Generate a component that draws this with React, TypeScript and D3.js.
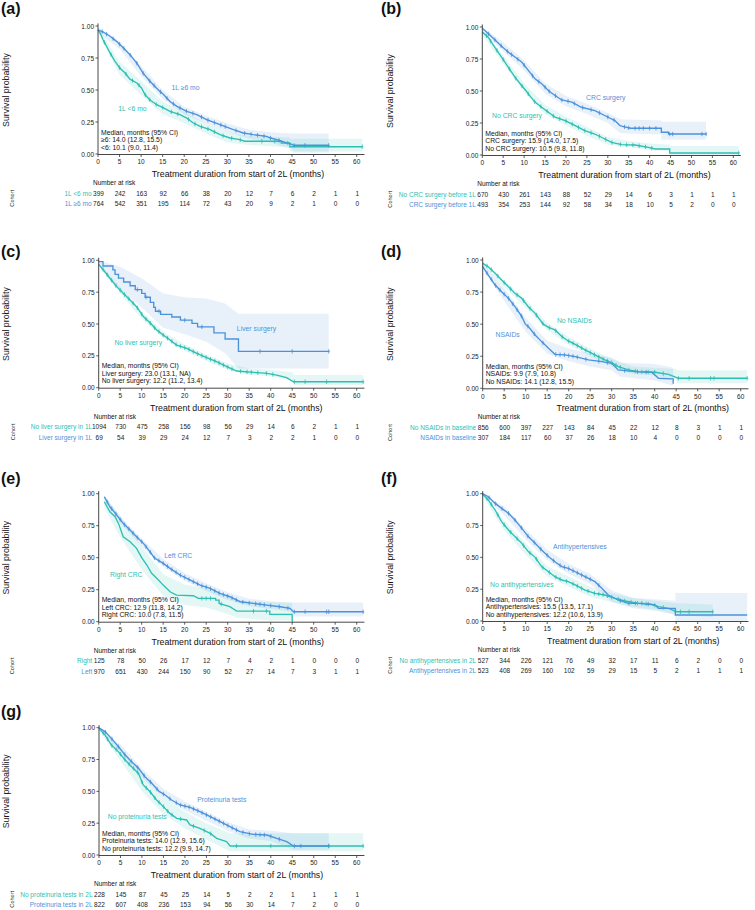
import React from 'react';
import * as d3 from 'd3';

const TEAL = '#2DBFB3';
const BLUE = '#4C92DB';
const FONT = "'Liberation Sans', Arial, Helvetica, sans-serif";

const timeTicks = [0, 5, 10, 15, 20, 25, 30, 35, 40, 45, 50, 55, 60];
const survTicks = [0, 0.25, 0.5, 0.75, 1];

// ---------- Panel (a) ----------
const aLt6Curve = [[0,0.97],[0.5,0.945],[1.2,0.89],[2,0.84],[2.8,0.79],[3.9,0.725],[5.1,0.67],[6.3,0.633],[7.4,0.585],[9,0.555],[10.1,0.516],[10.9,0.464],[12,0.424],[13.6,0.385],[15.2,0.36],[16.7,0.333],[19,0.307],[20.6,0.281],[22.1,0.242],[23.7,0.216],[26,0.19],[28.3,0.151],[30.6,0.125],[32.9,0.112],[34,0.1],[42.5,0.1],[42.5,0.086],[44.5,0.086],[44.5,0.057],[61.3,0.057]];
const aLt6Band = [[0,0.95,0.99],[5,0.62,0.72],[10,0.46,0.57],[15,0.31,0.41],[20,0.24,0.33],[25,0.16,0.24],[30,0.09,0.17],[35,0.07,0.14],[44.5,0.05,0.13],[44.5,0.02,0.12],[61.3,0.02,0.12]];
const aLt6Censor = [1.5,3,5,6.5,8,9.5,11,12,13.5,15,17,18.5,21,22.5,24,25.5,27,29,31,33,38,41,44,61.3];
const aGe6Curve = [[0,0.97],[1.2,0.953],[2.8,0.92],[4.3,0.88],[5.9,0.828],[7.4,0.776],[9,0.71],[10.5,0.63],[12,0.57],[14,0.5],[15.2,0.464],[16.7,0.41],[18.3,0.372],[20.6,0.333],[22.9,0.307],[25.2,0.268],[28.3,0.229],[31.4,0.19],[33.7,0.164],[36,0.151],[39.1,0.138],[40,0.125],[41.5,0.112],[43.8,0.086],[45,0.075],[45.3,0.068],[53.5,0.068]];
const aGe6Band = [[0,0.95,0.99],[5,0.82,0.88],[10,0.61,0.69],[15,0.43,0.5],[20,0.31,0.37],[25,0.24,0.3],[30,0.17,0.24],[35,0.12,0.19],[40,0.09,0.17],[45,0.04,0.16],[45.3,0.01,0.16],[53.5,0.01,0.16]];
const aGe6Censor = [1,2,3.5,5,6,7.5,9,10.5,12,13,14.5,16,17.5,19,20.5,22,24,25.5,27,28.5,29.5,32,34,35.5,37,38.5,40,42,45.5,48,53.5];
const aRiskLt6 = [399,242,163,92,66,38,20,12,7,6,2,1,1];
const aRiskGe6 = [764,542,351,195,114,72,43,20,9,2,1,0,0];

// ---------- Panel (b) ----------
const bNoCurve = [[0,0.96],[1.4,0.92],[3,0.84],[4.6,0.765],[6.2,0.687],[7.8,0.608],[9.4,0.543],[10.5,0.5],[11,0.478],[12.6,0.413],[14.2,0.373],[15.8,0.334],[17.4,0.295],[19.8,0.269],[22.2,0.23],[24.5,0.19],[26.9,0.164],[29.3,0.125],[30.9,0.099],[33.3,0.081],[36.5,0.078],[39.7,0.06],[41.3,0.047],[44.8,0.047],[44.8,0.016],[61.3,0.016]];
const bNoBand = [[0,0.94,0.98],[5,0.71,0.78],[10,0.49,0.56],[15,0.32,0.39],[20,0.23,0.3],[25,0.15,0.22],[30,0.08,0.14],[35,0.06,0.11],[40,0.04,0.09],[44.8,0.03,0.08],[44.8,0,0.07],[61.3,0,0.07]];
const bNoCensor = [1,2,3.5,5,6.5,8,9.5,11,12.5,14,15.5,17,18.5,20,21.5,23,24.5,26,28,29.5,31,33,34.5,36,37.5,39,40.5,61.3];
const bYesCurve = [[0,0.99],[1.4,0.95],[3,0.9],[4.6,0.85],[6.2,0.804],[7.8,0.765],[9.4,0.726],[11,0.661],[12.6,0.595],[14.2,0.556],[15.9,0.5],[17.4,0.465],[19,0.43],[21.4,0.413],[23.7,0.373],[26.9,0.347],[30.1,0.295],[31.7,0.269],[32.9,0.23],[34,0.22],[35.5,0.209],[42.8,0.209],[42.8,0.178],[44.5,0.178],[44.5,0.164],[53.5,0.164]];
const bYesBand = [[0,0.97,1],[5,0.81,0.88],[10,0.66,0.74],[15,0.48,0.56],[20,0.38,0.46],[25,0.32,0.4],[30,0.25,0.33],[33,0.17,0.28],[42.8,0.16,0.27],[42.8,0.12,0.26],[53.5,0.12,0.26]];
const bYesCensor = [1.5,3,4.5,6,7,8.5,10,12,13.5,15,16,17.5,19,20.5,22,24,26,28,30,31.5,34,35,36.5,37.5,38.5,40,41.5,44.8,45.5,52.5,53.5];
const bRiskNo = [670,430,261,143,88,52,29,14,6,3,1,1,1];
const bRiskYes = [493,354,253,144,92,58,34,18,10,5,2,0,0];

// ---------- Panel (c) ----------
const cNoCurve = [[0,0.968],[1.1,0.924],[2.6,0.859],[4.2,0.793],[5.7,0.741],[7.3,0.688],[8.8,0.636],[10.4,0.558],[12.2,0.5],[13.5,0.453],[15,0.414],[16.6,0.374],[18.1,0.335],[20.5,0.309],[22.8,0.27],[25.1,0.236],[27.4,0.204],[29.8,0.165],[32.1,0.131],[36,0.12],[39.1,0.113],[41.4,0.099],[43.7,0.079],[45.3,0.047],[61.5,0.047]];
const cNoBand = [[0,0.955,0.98],[5,0.74,0.79],[10,0.54,0.6],[15,0.39,0.44],[20,0.29,0.34],[25,0.21,0.26],[30,0.14,0.19],[35,0.1,0.15],[40,0.09,0.14],[45.3,0.05,0.12],[45.3,0.02,0.1],[61.5,0.02,0.1]];
const cNoCensor = [1,2,3,4,5,6,7,8,9,10,11,12,13,14,15,16,17,18,19,20,21,22,23,24,25,26,27,28,29,30,31,33,34.5,35.5,37,39,40.5,45.5,48,53,61.5];
const cYesCurve = [[0,0.99],[1,0.99],[1,0.955],[3.3,0.955],[3.3,0.925],[3.8,0.925],[3.8,0.89],[4.6,0.89],[4.6,0.86],[5.8,0.86],[5.8,0.83],[7.3,0.83],[7.3,0.8],[8.5,0.8],[8.5,0.77],[10,0.77],[10,0.74],[10.8,0.74],[10.8,0.71],[12,0.71],[12,0.67],[12.8,0.67],[12.8,0.63],[13.2,0.63],[13.2,0.6],[14.4,0.6],[14.4,0.575],[17,0.575],[17,0.555],[19,0.555],[19,0.53],[21.7,0.53],[21.7,0.505],[23,0.505],[23,0.478],[26.8,0.478],[26.8,0.43],[29.4,0.43],[29.4,0.382],[32.5,0.382],[32.5,0.285],[53.5,0.285]];
const cYesBand = [[0,0.97,1],[5,0.77,0.95],[10,0.63,0.86],[15,0.47,0.74],[20,0.42,0.71],[25,0.36,0.7],[29.4,0.27,0.66],[32.5,0.15,0.58],[53.5,0.15,0.58]];
const cYesCensor = [9,11,14,20,24,37.5,45,53.5];
const cRiskNo = [1094,730,475,258,156,98,56,29,14,6,2,1,1];
const cRiskYes = [69,54,39,29,24,12,7,3,2,2,1,0,0];

// ---------- Panel (d) ----------
const dNoCurve = [[0,0.974],[1.3,0.948],[2.9,0.896],[4.4,0.844],[6,0.792],[7.5,0.74],[9.1,0.701],[10.6,0.636],[12.2,0.584],[14.1,0.5],[15.3,0.475],[16.8,0.455],[18.4,0.403],[19.9,0.369],[21.5,0.343],[23.8,0.299],[26.1,0.26],[28.4,0.221],[30,0.2],[31.5,0.169],[33.9,0.143],[36.2,0.13],[40.1,0.125],[43.2,0.109],[45.1,0.083],[45.5,0.078],[61.5,0.078]];
const dNoBand = [[0,0.96,0.99],[5,0.79,0.84],[10,0.63,0.69],[15,0.45,0.51],[20,0.34,0.4],[25,0.25,0.31],[30,0.17,0.23],[35,0.11,0.17],[40,0.1,0.16],[45.1,0.07,0.15],[45.1,0.04,0.14],[61.5,0.04,0.14]];
const dNoCensor = [1,2,3.5,5,6.5,8,9.5,11,12.5,14,15.5,17,18.5,20,21,22,23,24,25,26,27,28,29,30,31,32,34,35.5,37,38.5,40,42,45.5,48,53,53.8,61.5];
const dYesCurve = [[0,0.948],[1.3,0.883],[2.9,0.805],[4.4,0.753],[6,0.701],[7.5,0.636],[9.1,0.558],[9.9,0.5],[10.6,0.481],[12.2,0.416],[13.7,0.364],[15.3,0.312],[16.8,0.265],[19.1,0.26],[21.5,0.247],[24.6,0.221],[27.7,0.208],[30,0.195],[31.5,0.143],[35.4,0.13],[39.3,0.125],[40.9,0.078],[44,0.073],[44.3,0.073],[44.3,0.035]];
const dYesBand = [[0,0.93,0.97],[5,0.68,0.78],[10,0.44,0.55],[15,0.27,0.37],[20,0.21,0.31],[25,0.17,0.27],[30,0.14,0.24],[32,0.09,0.2],[40,0.06,0.19],[44.3,0.02,0.16]];
const dYesCensor = [1,2,3,4,5,6,7,8,9,10.5,12,14,17,18,19,20,21,22,24,27,29,33,36,38];
const dRiskNo = [856,600,397,227,143,84,45,22,12,8,3,1,1];
const dRiskYes = [307,184,117,60,37,26,18,10,4,0,0,0,0];

// ---------- Panel (e) ----------
const eRightCurve = [[1.3,0.937],[2.6,0.859],[3.8,0.82],[4.6,0.768],[5.7,0.664],[7.3,0.625],[8.8,0.573],[10,0.5],[11.2,0.443],[12.3,0.378],[13.5,0.339],[15,0.286],[16.6,0.234],[18.1,0.208],[22,0.203],[23.2,0.182],[27.2,0.182],[27.2,0.169],[28,0.169],[28,0.143],[30.5,0.117],[32.1,0.083],[39.8,0.083],[39.8,0.057],[45,0.057],[45,0]];
const eRightBand = [[1.3,0.89,0.98],[5,0.66,0.83],[10,0.41,0.59],[15,0.2,0.37],[20,0.13,0.29],[25,0.11,0.26],[30,0.06,0.2],[32.1,0.03,0.17],[40,0.01,0.15],[45,0.01,0.15]];
const eRightCensor = [24,25,26,28.5,36,39];
const eLeftCurve = [[1.3,0.976],[2.6,0.898],[4.2,0.833],[5.7,0.768],[7.3,0.716],[8.8,0.664],[10.4,0.612],[11.9,0.547],[12.9,0.5],[15,0.456],[16.6,0.417],[18.9,0.365],[21.2,0.326],[23.6,0.286],[25.9,0.26],[28.2,0.221],[30.5,0.195],[32.9,0.156],[36,0.143],[39.1,0.13],[42.2,0.117],[44.5,0.104],[45.3,0.078],[61.5,0.078]];
const eLeftBand = [[1.3,0.96,0.99],[5,0.77,0.82],[10,0.59,0.65],[15,0.43,0.49],[20,0.32,0.38],[25,0.24,0.3],[30,0.17,0.23],[35,0.12,0.18],[40,0.1,0.16],[44.5,0.08,0.15],[45.3,0.04,0.15],[61.5,0.04,0.15]];
const eLeftCensor = [2,3,4,5,6,7,8,9,10,11,12,13,14,15,16,17,18,19,20,21,22,23,24,25,26,27,28,29,30,31,32,33.5,35,36.5,37.5,38.5,40,42,44,45.5,48,53,53.5,61.5];
const eRiskRight = [125,78,50,26,17,12,7,4,2,1,0,0,0];
const eRiskLeft = [970,651,430,244,150,90,52,27,14,7,3,1,1];

// ---------- Panel (f) ----------
const fNoCurve = [[0,0.995],[1.3,0.95],[2.9,0.872],[4.4,0.78],[6,0.715],[7.5,0.663],[9.1,0.61],[10.6,0.545],[12.2,0.5],[13.7,0.427],[15.3,0.387],[16.8,0.348],[18.4,0.322],[19.9,0.309],[21.5,0.283],[23.8,0.243],[26.1,0.217],[28.4,0.204],[30.8,0.178],[33.1,0.157],[36.2,0.139],[39.3,0.131],[40.9,0.113],[43.2,0.099],[45.1,0.073],[53.5,0.073]];
const fNoBand = [[0,0.98,1],[5,0.71,0.79],[10,0.52,0.61],[15,0.35,0.43],[20,0.27,0.35],[25,0.19,0.27],[30,0.15,0.22],[35,0.11,0.18],[40,0.09,0.16],[45.1,0.05,0.14],[53.5,0.03,0.13]];
const fNoCensor = [1,2,3.5,5,6.5,8,9.5,11,12.5,14,15.5,17,18,19.5,21,22,23,24.5,26,27,28,29,30,31.5,33,34.5,36,38,40,42,46,48,53.5];
const fYesCurve = [[0,1],[1.3,0.976],[2.9,0.924],[4.4,0.885],[6,0.846],[7.5,0.793],[9.1,0.728],[10.6,0.663],[12.2,0.61],[13.7,0.558],[15.5,0.5],[16.8,0.466],[18.4,0.427],[19.9,0.414],[21.5,0.387],[23.8,0.348],[26.1,0.309],[27.7,0.257],[29.2,0.204],[31.5,0.165],[33.9,0.139],[37,0.139],[40.1,0.126],[40.9,0.099],[44.8,0.099],[44.8,0.047],[61.5,0.047]];
const fYesBand = [[0,0.99,1],[5,0.83,0.9],[10,0.64,0.72],[15,0.48,0.56],[20,0.37,0.45],[25,0.29,0.37],[28,0.21,0.29],[30,0.15,0.24],[35,0.1,0.18],[40,0.08,0.17],[44.8,0.05,0.16],[44.8,0,0.22],[61.5,0,0.22]];
const fYesCensor = [1.5,3,4.5,6,7.5,9,10.5,12,13.5,15,16.5,18,19,20,21,22,23,24,25,27,32,34,35.5,37,38.5];
const fRiskNo = [527,344,226,121,76,49,32,17,11,6,2,0,0];
const fRiskYes = [523,408,269,160,102,59,29,15,5,2,1,1,1];

// ---------- Panel (g) ----------
const gNoCurve = [[0,0.995],[1.4,0.942],[2.9,0.864],[4.5,0.812],[6.1,0.746],[7.6,0.694],[9.2,0.641],[10.3,0.55],[11.9,0.497],[13.4,0.432],[15,0.38],[16.5,0.327],[18.1,0.288],[20.4,0.275],[21.2,0.236],[23.5,0.209],[25.9,0.17],[27.4,0.131],[29.7,0.105],[30.5,0.071],[61.5,0.071]];
const gNoBand = [[0,0.98,1],[5,0.74,0.85],[10,0.5,0.63],[15,0.32,0.45],[20,0.21,0.34],[25,0.12,0.25],[30.5,0.03,0.17],[61.5,0.03,0.17]];
const gNoCensor = [1,2,3,4,5,6,7,8,9,10,11,12,13,14,15,16,17,19,22,24.5,26,32,40,53.5,61.5];
const gYesCurve = [[0,1],[1.4,0.969],[2.9,0.916],[4.5,0.851],[6.1,0.785],[7.6,0.733],[9.2,0.681],[10.7,0.615],[12.3,0.563],[14,0.5],[15.4,0.471],[16.9,0.432],[18.9,0.393],[21.2,0.374],[23.5,0.34],[25.9,0.301],[28.2,0.262],[30.5,0.223],[32.8,0.183],[35.9,0.162],[39.1,0.157],[41.4,0.131],[43.7,0.105],[45.3,0.071],[53.5,0.071]];
const gYesBand = [[0,0.99,1],[5,0.81,0.87],[10,0.61,0.68],[15,0.45,0.52],[20,0.35,0.42],[25,0.27,0.34],[30,0.19,0.26],[35,0.13,0.2],[40,0.11,0.19],[45.3,0.04,0.17],[53.5,0.04,0.17]];
const gYesCensor = [1.5,3,4.5,6,7.5,9,10.5,12,13.5,15,16.5,18,19,20,21,22,23,24,25,26,27,28,29,30,31,32,33.5,35,36.5,37.5,38.5,40,42,45.5,47,53.5];
const gRiskNo = [228,145,87,45,25,14,5,2,2,1,1,1,1];
const gRiskYes = [822,607,408,236,153,94,56,30,14,7,2,0,0];

type Series = {
  color: string; curve: number[][]; band: number[][]; censor: number[]; risk: number[];
  tableLabel: string; curveLabel: string; labelAt: [number, number];
};
type PanelDef = { tag: string; series: Series[]; median: string[]; layout: any };

const PANELS: PanelDef[] = [
  { tag: '(a)', median: ['Median, months (95% CI)', '≥6: 14.0 (12.8, 15.5)', '<6: 10.1 (9.0, 11.4)'],
    layout: { x0: 98, x60: 356.7, y1: 26, y0: 154, lx: 1, ly: 14, titleX: 238, ylabX: 6, cohortX: 12 },
    series: [
      { color: TEAL, curve: aLt6Curve, band: aLt6Band, censor: aLt6Censor, risk: aRiskLt6, tableLabel: '1L <6 mo', curveLabel: '1L <6 mo', labelAt: [8, 0.352] },
      { color: BLUE, curve: aGe6Curve, band: aGe6Band, censor: aGe6Censor, risk: aRiskGe6, tableLabel: '1L ≥6 mo', curveLabel: '1L ≥6 mo', labelAt: [20.3, 0.523] },
    ] },
  { tag: '(b)', median: ['Median, months (95% CI)', 'CRC surgery: 15.9 (14.0, 17.5)', 'No CRC surgery: 10.5 (9.8, 11.8)'],
    layout: { x0: 482.3, x60: 733.3, y1: 27, y0: 155, lx: 381, ly: 14, titleX: 624.5, ylabX: 390, cohortX: 390 },
    series: [
      { color: TEAL, curve: bNoCurve, band: bNoBand, censor: bNoCensor, risk: bRiskNo, tableLabel: 'No CRC surgery before 1L', curveLabel: 'No CRC surgery', labelAt: [8.3, 0.308] },
      { color: BLUE, curve: bYesCurve, band: bYesBand, censor: bYesCensor, risk: bRiskYes, tableLabel: 'CRC surgery before 1L', curveLabel: 'CRC surgery', labelAt: [29.5, 0.452] },
    ] },
  { tag: '(c)', median: ['Median, months (95% CI)', 'Liver surgery: 23.0 (13.1, NA)', 'No liver surgery: 12.2 (11.2, 13.4)'],
    layout: { x0: 98.7, x60: 356.7, y1: 260.3, y0: 387.7, lx: 1, ly: 257, titleX: 236.3, ylabX: 6, cohortX: 13 },
    series: [
      { color: TEAL, curve: cNoCurve, band: cNoBand, censor: cNoCensor, risk: cRiskNo, tableLabel: 'No liver surgery in 1L', curveLabel: 'No liver surgery', labelAt: [9.2, 0.356] },
      { color: BLUE, curve: cYesCurve, band: cYesBand, censor: cYesCensor, risk: cRiskYes, tableLabel: 'Liver surgery in 1L', curveLabel: 'Liver surgery', labelAt: [36.7, 0.466] },
    ] },
  { tag: '(d)', median: ['Median, months (95% CI)', 'NSAIDs: 9.9 (7.9, 10.8)', 'No NSAIDs: 14.1 (12.8, 15.5)'],
    layout: { x0: 482.7, x60: 740.7, y1: 260, y0: 388.3, lx: 381, ly: 257, titleX: 642.8, ylabX: 390, cohortX: 390 },
    series: [
      { color: TEAL, curve: dNoCurve, band: dNoBand, censor: dNoCensor, risk: dRiskNo, tableLabel: 'No NSAIDs in baseline', curveLabel: 'No NSAIDs', labelAt: [21.3, 0.525] },
      { color: BLUE, curve: dYesCurve, band: dYesBand, censor: dYesCensor, risk: dRiskYes, tableLabel: 'NSAIDs in baseline', curveLabel: 'NSAIDs', labelAt: [5.8, 0.416] },
    ] },
  { tag: '(e)', median: ['Median, months (95% CI)', 'Left CRC: 12.9 (11.8, 14.2)', 'Right CRC: 10.0 (7.8, 11.5)'],
    layout: { x0: 98.7, x60: 356.7, y1: 493.7, y0: 621.7, lx: 1, ly: 484, titleX: 237.8, ylabX: 6, cohortX: 12 },
    series: [
      { color: TEAL, curve: eRightCurve, band: eRightBand, censor: eRightCensor, risk: eRiskRight, tableLabel: 'Right', curveLabel: 'Right CRC', labelAt: [6.4, 0.37] },
      { color: BLUE, curve: eLeftCurve, band: eLeftBand, censor: eLeftCensor, risk: eRiskLeft, tableLabel: 'Left', curveLabel: 'Left CRC', labelAt: [18.5, 0.521] },
    ] },
  { tag: '(f)', median: ['Median, months (95% CI)', 'Antihypertensives: 15.5 (13.5, 17.1)', 'No antihypertensives: 12.2 (10.6, 13.9)'],
    layout: { x0: 482.7, x60: 740.7, y1: 493.7, y0: 621, lx: 381, ly: 484, titleX: 633.3, ylabX: 390, cohortX: 390 },
    series: [
      { color: TEAL, curve: fNoCurve, band: fNoBand, censor: fNoCensor, risk: fRiskNo, tableLabel: 'No antihypertensives in 2L', curveLabel: 'No antihypertensives', labelAt: [9.1, 0.29] },
      { color: BLUE, curve: fYesCurve, band: fYesBand, censor: fYesCensor, risk: fRiskYes, tableLabel: 'Antihypertensives in 2L', curveLabel: 'Antihypertensives', labelAt: [22.6, 0.586] },
    ] },
  { tag: '(g)', median: ['Median, months (95% CI)', 'Proteinuria tests: 14.0 (12.9, 15.6)', 'No proteinuria tests: 12.2 (9.9, 14.7)'],
    layout: { x0: 99, x60: 356.7, y1: 727.7, y0: 855, lx: 1, ly: 717, titleX: 237, ylabX: 6, cohortX: 12 },
    series: [
      { color: TEAL, curve: gNoCurve, band: gNoBand, censor: gNoCensor, risk: gRiskNo, tableLabel: 'No proteinuria tests in 2L', curveLabel: 'No proteinuria tests', labelAt: [8.9, 0.301] },
      { color: BLUE, curve: gYesCurve, band: gYesBand, censor: gYesCensor, risk: gRiskYes, tableLabel: 'Proteinuria tests in 2L', curveLabel: 'Proteinuria tests', labelAt: [28.6, 0.437] },
    ] },
];

function curveAt(curve: number[][], t: number): number {
  for (let i = 0; i < curve.length - 1; i++) {
    const [t0, s0] = curve[i];
    const [t1, s1] = curve[i + 1];
    if (t >= t0 && t < t1) return t1 === t0 ? s1 : s0 + (s1 - s0) * (t - t0) / (t1 - t0);
  }
  return curve[curve.length - 1][1];
}

const fmt = d3.format('.2f');

function Panel({ p }: { p: PanelDef }) {
  const L = p.layout;
  const x = d3.scaleLinear().domain([0, 60]).range([L.x0, L.x60]);
  const y = d3.scaleLinear().domain([0, 1]).range([L.y0, L.y1]);
  const line = d3.line<number[]>().x(d => x(d[0])).y(d => y(d[1])).curve(d3.curveLinear);
  const area = d3.area<number[]>().x(d => x(d[0])).y0(d => y(d[1])).y1(d => y(d[2])).curve(d3.curveLinear);
  const axisCol = '#333';
  const yTop = y(1.02);
  const xEnd = x(61.8);
  const titleY = L.y0 + 20;
  const narY = L.y0 + 28.5;
  const rowY = [L.y0 + 39, L.y0 + 49.5];
  return (
    <g>
      <text x={L.lx} y={L.ly} fontSize={16} fontWeight="bold" fill="#111">{p.tag}</text>
      {p.series.map((s, i) => (
        <path key={'b' + i} d={area(s.band) || ''} fill={s.color} fillOpacity={0.13} stroke="none" />
      ))}
      {p.series.map((s, i) => (
        <path key={'l' + i} d={line(s.curve) || ''} fill="none" stroke={s.color} strokeWidth={1.35} />
      ))}
      {p.series.map((s, i) => (
        <g key={'c' + i} stroke={s.color} strokeWidth={0.8}>
          {s.censor.map((t, j) => {
            const cx = x(t), cy = y(curveAt(s.curve, t));
            return <path key={j} d={`M${cx},${cy - 2.2}V${cy + 2.2}M${cx - 1.2},${cy}H${cx + 1.2}`} />;
          })}
        </g>
      ))}
      <line x1={L.x0} x2={L.x0} y1={yTop} y2={L.y0 + 0.5} stroke={axisCol} strokeWidth={0.9} />
      <line x1={L.x0} x2={xEnd} y1={L.y0 + 0.5} y2={L.y0 + 0.5} stroke={axisCol} strokeWidth={0.9} />
      {survTicks.map(v => (
        <g key={'yt' + v}>
          <line x1={L.x0 - 2.5} x2={L.x0} y1={y(v)} y2={y(v)} stroke={axisCol} strokeWidth={0.8} />
          <text x={L.x0 - 4} y={y(v)} fontSize={6.5} textAnchor="end" dominantBaseline="central" fill="#222">{fmt(v)}</text>
        </g>
      ))}
      {timeTicks.map(v => (
        <g key={'xt' + v}>
          <line x1={x(v)} x2={x(v)} y1={L.y0 + 0.5} y2={L.y0 + 3} stroke={axisCol} strokeWidth={0.8} />
          <text x={x(v)} y={L.y0 + 7.8} fontSize={6.5} textAnchor="middle" dominantBaseline="central" fill="#222">{v}</text>
        </g>
      ))}
      <text x={L.titleX} y={titleY} fontSize={8.8} textAnchor="middle" dominantBaseline="central" fill="#111">Treatment duration from start of 2L (months)</text>
      <text transform={`translate(${L.ylabX},${(L.y0 + L.y1) / 2}) rotate(-90)`} fontSize={8.8} textAnchor="middle" dominantBaseline="central" fill="#111">Survival probability</text>
      {p.series.map((s, i) => (
        <text key={'cl' + i} x={x(s.labelAt[0])} y={y(s.labelAt[1])} fontSize={6.8} textAnchor="middle" dominantBaseline="central" fill={s.color}>{s.curveLabel}</text>
      ))}
      {p.median.map((m, i) => (
        <text key={'m' + i} x={L.x0 + 3} y={L.y0 - 22 + i * 7.6} fontSize={6.8} dominantBaseline="central" fill="#111">{m}</text>
      ))}
      <text x={L.x0 - 5} y={narY} fontSize={6.5} dominantBaseline="central" fill="#111">Number at risk</text>
      <text transform={`translate(${L.cohortX},${(rowY[0] + rowY[1]) / 2}) rotate(-90)`} fontSize={5.6} textAnchor="middle" dominantBaseline="central" fill="#222">Cohort</text>
      {p.series.map((s, i) => (
        <g key={'r' + i}>
          <text x={L.x0 - 6.5} y={rowY[i]} fontSize={6.5} textAnchor="end" dominantBaseline="central" fill={s.color}>{s.tableLabel}</text>
          {s.risk.map((n, j) => (
            <text key={j} x={x(timeTicks[j]) + 0.5} y={rowY[i]} fontSize={6.5} textAnchor="middle" dominantBaseline="central" fill="#222">{n}</text>
          ))}
        </g>
      ))}
    </g>
  );
}

export default function App() {
  return (
    <svg width={755} height={910} viewBox="0 0 755 910" style={{ position: 'absolute', left: 0, top: 0, background: '#fff', fontFamily: FONT }}>
      <rect x={0} y={0} width={755} height={910} fill="#fff" />
      {PANELS.map(p => <Panel key={p.tag} p={p} />)}
    </svg>
  );
}
